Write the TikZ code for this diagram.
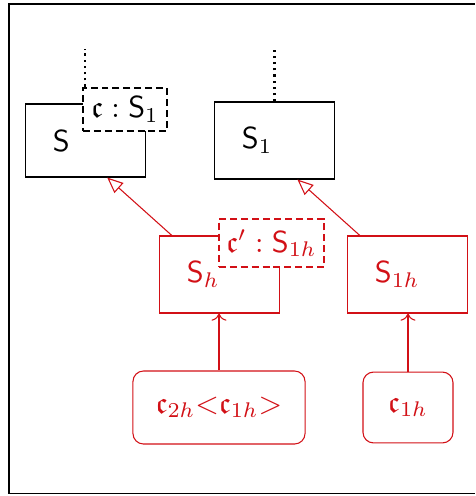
\documentclass[tikz,border=0pt]{standalone}
\usepackage{amsmath,amssymb}
\usetikzlibrary{shapes,arrows,arrows.meta,positioning}
\definecolor{hred}{RGB}{210,16,22}
\tikzstyle{sortbox} = [draw, line width=0.35pt, rectangle, minimum height=25.4pt, text width=21.5pt, inner xsep=8.9pt, inner ysep=0pt, align=left]
\tikzstyle{viewbox} = [draw, line width=0.85pt, dash pattern=on 2.3pt off 1.3pt, fill=white, rectangle, inner sep=0pt]
\tikzstyle{termbox} = [draw, line width=0.35pt, rectangle, rounded corners=3.5pt, inner sep=0pt]
\tikzstyle{hcol} = [draw=hred, text=hred]
\tikzstyle{inherit} = [hred, line width=0.35pt, -{Triangle[open,length=5.2pt,width=4.4pt]}]
\tikzstyle{rises} = [hred, line width=0.35pt, ->]
\tikzstyle{stem} = [line width=0.75pt, dash pattern=on 0.75pt off 1.3pt]

\begin{document}
\begin{tikzpicture}[x=0.33pt,y=-0.33pt]
\useasboundingbox (0,0) rectangle (475,496);
\draw[line width=0.35pt] (475,4) -- (9,4) -- (9,493.5) -- (475,493.5);

% upper sorts
\node[sortbox, minimum height=24.1pt] (S) at (85.5,140.5) {$\mathsf{S}$};
\node[sortbox] (S1) at (274.5,140.5) {$\mathsf{S}_1$};
\draw[stem] (S1.north) -- ++(0,-54);
\node[viewbox, minimum width=27.7pt, minimum height=14.2pt] (cS1) at (125,109.5) {$\mathfrak{c} : \mathsf{S}_1$};
\draw[stem] ([xshift=1pt]cS1.north west) -- ++(0,-38);

% hidden sorts
\node[sortbox, hcol] (Sh) at (219.5,274.5) {$\mathsf{S}_h$};
\node[sortbox, hcol] (S1h) at (407.5,274.5) {$\mathsf{S}_{1h}$};
\node[viewbox, hcol, minimum width=34.7pt, minimum height=15.8pt] (cS1h) at (271.5,243) {$\mathfrak{c}' : \mathsf{S}_{1h}$};
\draw[inherit] ([xshift=4.1pt]Sh.north west) -- ([xshift=27pt]S.south west);
\draw[inherit] ([xshift=4.1pt]S1h.north west) -- ([xshift=27.4pt]S1.south west);

% terms
\node[termbox, hcol, minimum width=56.8pt, minimum height=24.1pt] (c2h) at (219,407.5) {$\mathfrak{c}_{2h}{<}\mathfrak{c}_{1h}{>}$};
\node[termbox, hcol, minimum width=29.7pt, minimum height=23.4pt] (c1h) at (408,407.5) {$\mathfrak{c}_{1h}$};
\draw[rises] (c2h.north) -- (c2h.north |- Sh.south);
\draw[rises] (c1h.north) -- (c1h.north |- S1h.south);
\end{tikzpicture}
\end{document}
